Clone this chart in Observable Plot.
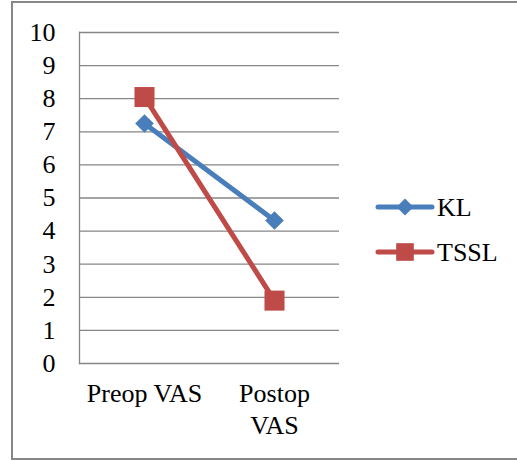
<!DOCTYPE html>
<html>
<head>
<meta charset="utf-8">
<script src="https://cdn.jsdelivr.net/npm/d3@7"></script>
<script src="https://cdn.jsdelivr.net/npm/@observablehq/plot@0.6"></script>
<style>
  html, body { margin: 0; padding: 0; background: #fff; }
  #wrap { position: relative; width: 517px; height: 460px; overflow: hidden; font-family: "Liberation Serif", "Tinos", "Times New Roman", "DejaVu Serif", serif; }
  #border { position: absolute; left: 11px; top: 1px; width: 520px; height: 455px; border: 2px solid #878787; box-sizing: content-box; }
  #chart { position: absolute; left: 0; top: 0; }
  #legend { position: absolute; left: 0; top: 0; }
  svg text { font-family: "Liberation Serif", "Tinos", "Times New Roman", "DejaVu Serif", serif !important; }
</style>
</head>
<body>
<div id="wrap"><div id="border"></div><div id="chart"></div><svg id="legend" width="517" height="460"></svg></div>
<script>
const categories = ["Preop VAS", "Postop VAS"];
const categoryLabels = ["Preop VAS", "Postop\nVAS"];
const seriesNames = ["KL", "TSSL"];
const klValues = [7.25, 4.32];
const tsslValues = [8.05, 1.9];
const yTicks = [0, 1, 2, 3, 4, 5, 6, 7, 8, 9, 10];

const colors = {KL: "#4A7EBB", TSSL: "#BE4B48"};
const markerFill = {KL: "#4A7EBB", TSSL: "#BE4B48"};
const symbols = {KL: "diamond2", TSSL: "square"};
const radii = {KL: 8.4, TSSL: 11.3};

const data = [];
categories.forEach((c, i) => {
  data.push({series: "KL", category: c, value: klValues[i]});
  data.push({series: "TSSL", category: c, value: tsslValues[i]});
});

const font = "'Liberation Serif', Tinos, 'Times New Roman', 'DejaVu Serif', serif";
const fs = 26;

const chart = Plot.plot({
  width: 517,
  height: 460,
  marginLeft: 79,
  marginRight: 178,
  marginTop: 32,
  marginBottom: 97,
  style: {fontFamily: font, fontSize: fs + "px", color: "#000", background: "transparent", overflow: "visible"},
  x: {type: "band", domain: categories, padding: 0},
  y: {domain: [0, 10]},
  marks: [
    Plot.gridY(yTicks, {stroke: "#868686", strokeOpacity: 1, strokeWidth: 1.3}),
    Plot.frame({anchor: "left", stroke: "#868686", strokeWidth: 1.3}),
    Plot.axisY(yTicks, {tickSize: 0, tickPadding: 24, fontSize: fs, label: null, tickFormat: d => String(d)}),
    Plot.axisX({tickSize: 0, tickPadding: 16, fontSize: fs, label: null, lineHeight: 1.23,
      tickFormat: d => categoryLabels[categories.indexOf(d)]}),
    ...seriesNames.map(s => Plot.line(data.filter(d => d.series === s), {
      x: "category", y: "value", stroke: colors[s], strokeWidth: 5, strokeLinecap: "round"
    })),
    ...seriesNames.map(s => Plot.dot(data.filter(d => d.series === s), {
      x: "category", y: "value", symbol: symbols[s], r: radii[s], fill: markerFill[s], stroke: "none"
    }))
  ]
});
document.getElementById("chart").appendChild(chart);

// Legend
const leg = d3.select("#legend");
const legendX0 = 378, legendX1 = 432, legendY0 = 207, legendStep = 45;
seriesNames.forEach((s, i) => {
  const y = legendY0 + i * legendStep;
  leg.append("line").attr("x1", legendX0).attr("x2", legendX1).attr("y1", y).attr("y2", y)
    .attr("stroke", colors[s]).attr("stroke-width", 5).attr("stroke-linecap", "round");
  leg.append("path").attr("transform", `translate(${(legendX0 + legendX1) / 2},${y})`)
    .attr("d", d3.symbol(s === "KL" ? d3.symbolDiamond2 : d3.symbolSquare2, s === "KL" ? 8.4 * 8.4 * 2.6 : 11.3 * 11.3 * 3.1)())
    .attr("fill", markerFill[s]);
  leg.append("text").attr("x", legendX1 + 5).attr("y", y).attr("dy", "0.35em")
    .attr("font-size", fs).attr("fill", "#000").text(s);
});
</script>
</body>
</html>
